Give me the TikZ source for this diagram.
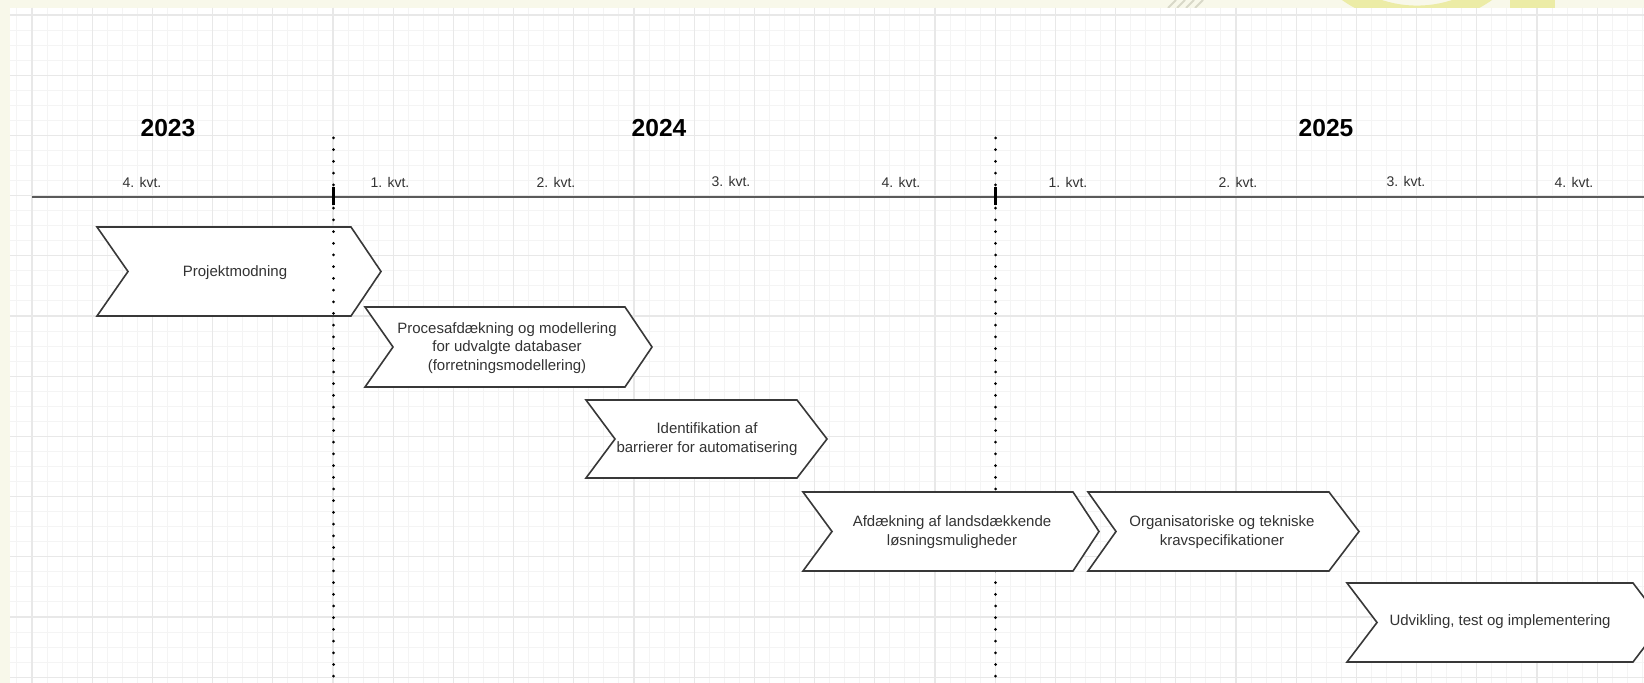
\documentclass[tikz,border=0pt]{standalone}
\usepackage{fontspec}
\setmainfont{Liberation Sans}
\definecolor{cream}{HTML}{F8F8EA}
\definecolor{wmyellow}{HTML}{ECECA6}
\definecolor{wmgray}{HTML}{D8D8C8}
\definecolor{gridmajor}{HTML}{E8E8E8}
\definecolor{gridminor}{HTML}{F4F4F4}
\definecolor{axisgray}{HTML}{5A5A5A}
\definecolor{chevline}{HTML}{383838}
\definecolor{txtgray}{HTML}{333333}
\newcommand\chevronpath[6]{%
  \draw[chev] (#1,#5) -- (#3,#5) -- (#4,{(#5+#6)/2}) -- (#3,#6) -- (#1,#6) -- (#2,{(#5+#6)/2}) -- cycle;}
\tikzset{
  minorline/.style={draw=gridminor, line width=0.5pt},
  majorline/.style={draw=gridmajor, line width=0.6pt},
  year/.style={font=\fontsize{12.3}{14}\selectfont\bfseries, text=black, inner sep=0pt},
  qlabel/.style={font=\fontsize{7}{8.5}\selectfont, text=txtgray, inner sep=0pt},
  chev/.style={draw=chevline, fill=white, line width=0.8pt, line join=miter},
  chevtext/.style={font=\fontsize{7.5}{9.25}\selectfont, text=txtgray, align=center, inner sep=0pt},
  axisline/.style={draw=axisgray, line width=1.3pt},
  dotline/.style={draw=black, line width=1.5pt, line cap=round, dash pattern=on 0pt off 5.85pt},
  tickline/.style={draw=black, line width=1.1pt},
}
\begin{document}
\begin{tikzpicture}[x=0.5pt,y=-0.5pt]
\useasboundingbox (0,0) rectangle (1644,683);
\clip (0,0) rectangle (1644,683);
\fill[cream] (0,0) rectangle (1644,683);
% watermark remnants in the top strip
\begin{scope}
  \clip (0,0) rectangle (1644,8);
  \fill[wmyellow, even odd rule] (1417,-107) circle (130.7) (1417,-107) circle (112.6);
  \fill[wmyellow] (1510,0) rectangle (1555,8);
  \foreach \i in {0,1,2,3} \draw[wmgray, line width=1pt] ({1168+9*\i},8) -- ({1176+9*\i},0);
\end{scope}
% canvas
\fill[white] (10,8) rectangle (1644,683);
% grid
\foreach \i in {-1,...,107} \draw[minorline] ({32+15.05*\i},8) -- ({32+15.05*\i},683);
\foreach \j in {0,...,44} \draw[minorline] (10,{15+15.05*\j}) -- (1644,{15+15.05*\j});
\foreach \i in {0,...,26} \draw[majorline] ({32+60.2*\i},8) -- ({32+60.2*\i},683);
\foreach \j in {0,...,11} \draw[majorline] (10,{15+60.2*\j}) -- (1644,{15+60.2*\j});

% first chevron lies under the dotted line
\chevronpath{97}{128}{351}{381}{227}{316}
\node[chevtext] (t1) at (235,273) {Projektmodning};

% axis, dotted year separators
\coordinate (ax0) at (32,197);
\coordinate (ax1) at (1644,197);
\coordinate (d1a) at (333.5,138);
\coordinate (d1b) at (333.5,683);
\coordinate (d2a) at (995.5,138);
\coordinate (d2b) at (995.5,683);
\coordinate (k1a) at (333.5,187);
\coordinate (k1b) at (333.5,205);
\coordinate (k2a) at (995.5,187);
\coordinate (k2b) at (995.5,205);
\draw[dotline] (d1a) -- (d1b);
\draw[dotline] (d2a) -- (d2b);
\draw[axisline] (ax0) -- (ax1);
\draw[tickline] (k1a) -- (k1b);
\draw[tickline] (k2a) -- (k2b);

% years
\node[year] (y23) at (168,128) {2023};
\node[year] (y24) at (659,128) {2024};
\node[year] (y25) at (1326,128) {2025};

% quarters
\node[qlabel] (q1) at (142,182) {4. kvt.};
\node[qlabel] (q2) at (390,182) {1. kvt.};
\node[qlabel] (q3) at (556,182) {2. kvt.};
\node[qlabel] (q4) at (731,182) {3. kvt.};
\node[qlabel] (q5) at (901,182) {4. kvt.};
\node[qlabel] (q6) at (1068,182) {1. kvt.};
\node[qlabel] (q7) at (1238,182) {2. kvt.};
\node[qlabel] (q8) at (1406,182) {3. kvt.};
\node[qlabel] (q9) at (1574,182) {4. kvt.};

% remaining chevrons
\chevronpath{365}{393}{625}{652}{307}{387}
\node[chevtext] (t2) at (507,348) {Procesafdækning og modellering\\for udvalgte databaser\\(forretningsmodellering)};
\chevronpath{586}{615}{797}{827}{400}{478}
\node[chevtext] (t3) at (707,439) {Identifikation af\\barrierer for automatisering};
\chevronpath{803}{832}{1073}{1099}{492}{571}
\node[chevtext] (t4) at (952,532) {Afdækning af landsdækkende\\løsningsmuligheder};
\chevronpath{1088}{1116}{1329}{1359}{492}{571}
\node[chevtext] (t5) at (1222,532) {Organisatoriske og tekniske\\kravspecifikationer};
\chevronpath{1347}{1377}{1633}{1663}{583}{662}
\node[chevtext] (t6) at (1500,622) {Udvikling, test og implementering};
\end{tikzpicture}
\end{document}
